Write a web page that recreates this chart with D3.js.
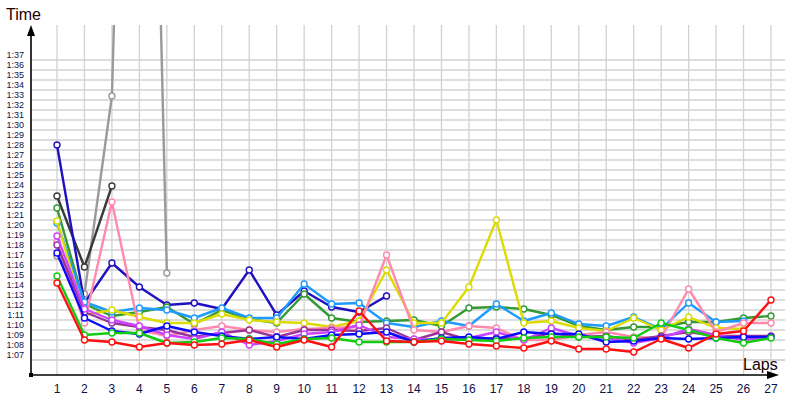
<!DOCTYPE html>
<html>
<head>
<meta charset="utf-8">
<script src="https://cdn.jsdelivr.net/npm/d3@7"></script>
<style>
  body { margin: 0; background: #fff; }
  svg { display: block; font-family: "Liberation Sans", Arial, sans-serif; }
</style>
</head>
<body>
<div id="chart"></div>
<script>
// Lap times in seconds (74.2 = 1:14.2), one value per lap, null = no lap
const laps = d3.range(1, 28);
const yTicks = d3.range(67, 98);   // 1:07 .. 1:37

const grayTimes   = [76.9, 73.1, 92.9, 190, 75.2];
const blackTimes  = [82.9, 75.8, 83.9];
const navyTimes   = [88.0, 72.2, 76.2, 73.8, 72.0, 72.2, 71.6, 75.5, 71.0, 73.4, 71.8, 71.3, 72.9];
const dkGreenTimes = [81.7, 72.1, 70.9, 71.3, 71.8, 70.1, 71.5, 70.6, 70.2, 73.1, 70.7, 70.3, 70.4, 70.5, 69.9, 71.7, 71.8, 71.6, 71.0, 69.9, 69.5, 69.8, 69.8, 70.3, 70.3, 70.7, 70.9];
const ltBlueTimes = [80.2, 72.3, 71.3, 71.7, 71.5, 70.7, 71.7, 70.7, 70.7, 74.1, 72.1, 72.2, 70.2, 69.8, 70.4, 69.9, 72.1, 70.4, 71.2, 70.1, 69.9, 70.8, 69.6, 72.2, 70.3, 70.4];
const yellowTimes = [80.4, 71.0, 71.5, 70.8, 70.2, 70.2, 71.1, 70.5, 70.3, 70.2, 69.8, 70.4, 75.5, 70.2, 70.2, 73.8, 80.5, 70.2, 70.4, 69.7, 69.4, 70.7, 69.5, 70.8, 69.7, 69.6];
const pinkTimes   = [78.3, 70.2, 82.3, 69.5, 68.9, 69.5, 69.9, 69.5, 69.3, 69.6, 69.7, 69.8, 77.0, 69.5, 69.3, 69.9, 69.7, 68.5, 68.5, 69.0, 69.3, 68.8, 68.7, 73.6, 69.3, 70.2, 70.2];
const purpleTimes = [78.0, 71.3, 70.2, 69.8, 69.5, 68.8, 69.2, 69.5, 68.8, 69.5, 69.5, 69.4, 69.7, 68.5, 69.3, 68.5, 68.7, 68.6, 69.2, 68.8, 68.9, 68.5, 68.9, 69.3, 68.9, 68.9, 68.9];
const violetTimes = [78.9, 71.6, 70.5, 69.9, 69.0, 68.6, 69.3, 68.0, 68.4, 69.1, 69.3, 70.0, 68.8, 68.6, 68.5, 68.7, 69.3, 68.5, 69.7, 68.9, 68.7, 68.2, 68.7, 69.6, 69.0, 68.5, 68.8];
const blueTimes   = [77.2, 70.7, 69.4, 69.1, 69.9, 69.3, 68.9, 68.6, 68.8, 68.6, 69.0, 69.1, 69.3, 68.3, 68.7, 68.8, 68.6, 69.3, 69.1, 69.1, 68.3, 68.4, 68.7, 68.6, 68.7, 68.8, 68.8];
const greenTimes  = [74.9, 69.0, 69.2, 69.2, 68.2, 68.3, 68.7, 68.6, 68.1, 68.6, 68.7, 68.3, 68.3, 68.3, 68.6, 68.5, 68.4, 68.7, 68.8, 68.8, 68.8, 68.7, 70.2, 69.5, 68.7, 68.2, 68.7];
const redTimes    = [74.2, 68.5, 68.3, 67.8, 68.2, 68.0, 68.1, 68.5, 67.8, 68.5, 67.8, 71.4, 68.4, 68.3, 68.4, 68.1, 67.9, 67.7, 68.4, 67.6, 67.6, 67.3, 68.6, 67.7, 69.1, 69.4, 72.5];

const series = [
    { color: '#9a9a9a', times: grayTimes },
    { color: '#3a3a3a', times: blackTimes },
    { color: '#2010c0', times: navyTimes },
    { color: '#339933', times: dkGreenTimes },
    { color: '#1e9bff', times: ltBlueTimes },
    { color: '#dcdc00', times: yellowTimes },
    { color: '#ff8aac', times: pinkTimes },
    { color: '#993399', times: purpleTimes },
    { color: '#cc44ff', times: violetTimes },
    { color: '#0a0aff', times: blueTimes },
    { color: '#11cc11', times: greenTimes },
    { color: '#ff1010', times: redTimes }
];

const width = 800, height = 400;
const plotTop = 25, plotBottom = 375, plotLeft = 31, plotRight = 785;

const svg = d3.select('#chart').append('svg')
    .attr('width', width)
    .attr('height', height);

const x = d3.scaleLinear().domain([1, 27]).range([57, 771]);
const y = d3.scaleLinear().domain([67, 97]).range([355, 55]);

const fmt = v => '1:' + String(v - 60).padStart(2, '0');

// Grid
const grid = svg.append('g').attr('stroke', '#d2d2d2').attr('stroke-width', 1.3);
grid.selectAll('.hg')
    .data(yTicks)
    .enter().append('line')
    .attr('x1', plotLeft).attr('x2', plotRight)
    .attr('y1', d => y(d - 0.5)).attr('y2', d => y(d - 0.5));
grid.append('line')
    .attr('x1', plotLeft).attr('x2', plotRight)
    .attr('y1', y(66.5)).attr('y2', y(66.5));
grid.selectAll('.vg')
    .data(laps)
    .enter().append('line')
    .attr('x1', d => x(d)).attr('x2', d => x(d))
    .attr('y1', plotTop).attr('y2', plotBottom);

// Clip for lines that leave the chart
svg.append('clipPath').attr('id', 'plot-clip')
    .append('rect')
    .attr('x', plotLeft).attr('y', plotTop)
    .attr('width', plotRight - plotLeft).attr('height', plotBottom - plotTop);

const plot = svg.append('g').attr('clip-path', 'url(#plot-clip)');

const line = d3.line()
    .defined(d => d != null)
    .x((d, i) => x(laps[i]))
    .y(d => y(d));

series.forEach(s => {
    const g = plot.append('g');
    g.append('path')
        .attr('d', line(s.times))
        .attr('fill', 'none')
        .attr('stroke', s.color)
        .attr('stroke-width', 2.4)
        .attr('stroke-linejoin', 'round');
    g.selectAll('circle')
        .data(s.times.map((t, i) => ({ lap: laps[i], t })))
        .enter().append('circle')
        .attr('cx', d => x(d.lap))
        .attr('cy', d => y(d.t))
        .attr('r', 3)
        .attr('fill', '#fff')
        .attr('stroke', s.color)
        .attr('stroke-width', 1.4);
});

// Axes with arrows
const axis = svg.append('g');
axis.append('line')
    .attr('x1', plotLeft).attr('x2', plotLeft)
    .attr('y1', plotBottom).attr('y2', plotTop + 6)
    .attr('stroke', '#000').attr('stroke-width', 1.6);
axis.append('path')
    .attr('d', `M${plotLeft},${plotTop} L${plotLeft - 4},${plotTop + 11} L${plotLeft + 4},${plotTop + 11} Z`)
    .attr('fill', '#000');
axis.append('line')
    .attr('x1', plotLeft).attr('x2', 772)
    .attr('y1', plotBottom).attr('y2', plotBottom)
    .attr('stroke', '#000').attr('stroke-width', 1.6);
axis.append('path')
    .attr('d', `M779,${plotBottom} L767,${plotBottom - 4} L767,${plotBottom + 4} Z`)
    .attr('fill', '#000');
axis.append('rect')
    .attr('x', plotLeft - 2).attr('y', plotBottom - 2)
    .attr('width', 4).attr('height', 4)
    .attr('fill', '#000');

// Tick labels
svg.append('g').selectAll('text')
    .data(yTicks)
    .enter().append('text')
    .attr('x', 24)
    .attr('y', d => y(d) + 3)
    .attr('text-anchor', 'end')
    .style('font-size', '9px')
    .style('fill', '#10104a')
    .text(fmt);

svg.append('g').selectAll('text')
    .data(laps)
    .enter().append('text')
    .attr('x', d => x(d))
    .attr('y', 393)
    .attr('text-anchor', 'middle')
    .style('font-size', '12px')
    .style('fill', '#10104a')
    .text(d => d);

// Axis titles
svg.append('text')
    .attr('x', 6).attr('y', 20)
    .style('font-size', '16px')
    .style('fill', '#1a0000')
    .text('Time');

svg.append('text')
    .attr('x', 743).attr('y', 370)
    .style('font-size', '16px')
    .style('fill', '#1a0000')
    .text('Laps');
</script>
</body>
</html>
